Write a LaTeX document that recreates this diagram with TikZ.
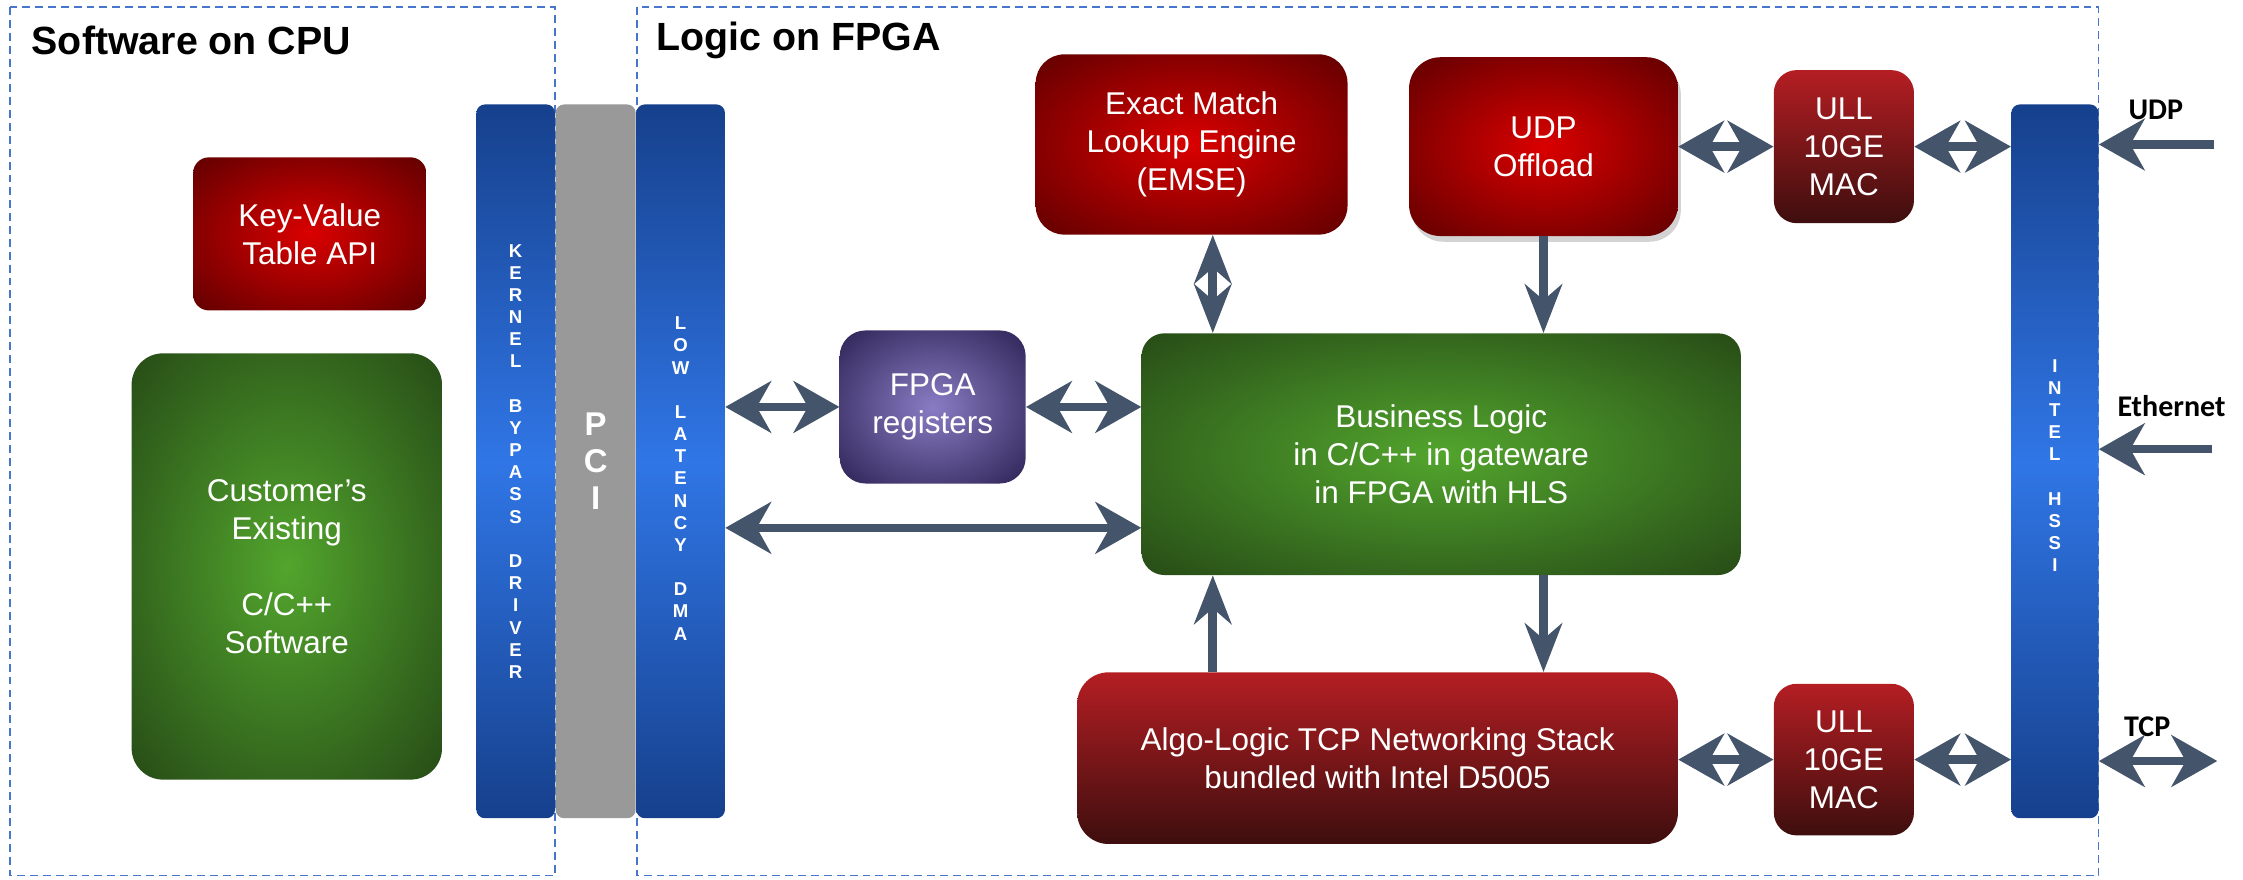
\documentclass[tikz,border=0pt]{standalone}
\usepackage{fontspec}
\setmainfont{Liberation Sans}
\newfontfamily\netfont{Carlito}
\usepackage{xcolor}
\usepackage{tikz}
\usetikzlibrary{positioning,calc,shapes,arrows.meta,shadows}

\definecolor{arrowslate}{RGB}{68,84,106}
\definecolor{dashblue}{RGB}{72,118,205}
\definecolor{redlight}{RGB}{218,0,0}
\definecolor{reddark}{RGB}{95,0,0}
\definecolor{redtop}{RGB}{180,30,35}
\definecolor{redbottom}{RGB}{62,14,14}
\definecolor{greenlight}{RGB}{82,165,45}
\definecolor{greendark}{RGB}{38,74,22}
\definecolor{purplelight}{RGB}{138,124,196}
\definecolor{purpledark}{RGB}{44,34,84}
\definecolor{bluelight}{RGB}{48,118,230}
\definecolor{bluedark}{RGB}{22,64,140}
\definecolor{pcigray}{RGB}{153,153,153}

\pgfdeclareradialshading{redglow}{\pgfpointorigin}{color(0bp)=(redlight);color(36bp)=(reddark);color(50bp)=(reddark)}
\pgfdeclareradialshading{greenglow}{\pgfpointorigin}{color(0bp)=(greenlight);color(36bp)=(greendark);color(50bp)=(greendark)}
\pgfdeclareradialshading{purpleglow}{\pgfpointorigin}{color(0bp)=(purplelight);color(36bp)=(purpledark);color(50bp)=(purpledark)}

\begin{document}
\begin{tikzpicture}[x=1pt,y=-1pt,
        block/.style={inner sep=0pt,text=white,align=center,font=\fontsize{22}{26.5}\selectfont},
        redblock/.style={block,shading=redglow},
        greenblock/.style={block,shading=greenglow},
        purpleblock/.style={block,shading=purpleglow},
        stackblock/.style={block,top color=redtop,bottom color=redbottom},
        busbar/.style={rounded corners=6pt,inner sep=0pt,minimum width=#1,minimum height=499pt,
                top color=bluedark,bottom color=bluedark,middle color=bluelight},
        bartext/.style={text=white,align=center,inner sep=0pt,font=\bfseries\fontsize{13}{15.5}\selectfont},
        dashbox/.style={draw=dashblue,line width=1.3pt,dash pattern=on 5.5pt off 3.5pt},
        heading/.style={anchor=west,inner sep=0pt,font=\bfseries\fontsize{27.5}{32}\selectfont},
        netlabel/.style={inner sep=0pt,font=\netfont\bfseries\fontsize{21}{25}\selectfont},
        bighead/.tip={Stealth[length=32pt,width=36pt,inset=10pt]},
        slimhead/.tip={Stealth[length=34pt,width=26pt,inset=11pt]},
        link/.style={draw=arrowslate,line width=6pt,-bighead},
        dlink/.style={draw=arrowslate,line width=6pt,bighead-bighead},
        vlink/.style={draw=arrowslate,line width=6pt,-slimhead},
        vdlink/.style={draw=arrowslate,line width=6pt,slimhead-slimhead}]
        \useasboundingbox (0,0) rectangle (1568,615);
        \draw[dashbox] (7,5) rectangle (388,612);
        \draw[dashbox] (445,5) rectangle (1467,612);
        \node[heading] (cpuhead) at (22,28) {Software on CPU};
        \node[heading] (fpgahead) at (459,28) {Logic on FPGA};

        \node[redblock,rounded corners=11pt,minimum width=163pt,minimum height=107pt] (kvt) at (216.5,163.5) {Key-Value\\Table API};
        \node[greenblock,rounded corners=22pt,minimum width=217pt,minimum height=298pt] (cust) at (200.5,396) {Customer’s\\Existing\\[26.5pt]C/C++\\Software};

        \node[busbar=55pt] (kernel) at (360.5,322.5) {};
        \node[rounded corners=6pt,fill=pcigray,inner sep=0pt,minimum width=56pt,minimum height=499pt,text=white,align=center,
                font=\bfseries\fontsize{23}{26}\selectfont,right=0pt of kernel] (pci) {P\\C\\I};
        \node[busbar=62pt,right=0pt of pci] (dma) {};
        \node[busbar=61pt] (hssi) at (1436.5,322.5) {};
        \node[bartext] (kerneltext) at (kernel.center) {K\\E\\R\\N\\E\\L\\[15.5pt]B\\Y\\P\\A\\S\\S\\[15.5pt]D\\R\\I\\V\\E\\R};
        \node[bartext] (dmatext) at ([yshift=-12pt]dma.center) {L\\O\\W\\[15.5pt]L\\A\\T\\E\\N\\C\\Y\\[15.5pt]D\\M\\A};
        \node[bartext] (hssitext) at ([yshift=-3pt]hssi.center) {I\\N\\T\\E\\L\\[15.5pt]H\\S\\S\\I};

        \node[purpleblock,rounded corners=18pt,minimum width=130pt,minimum height=107pt] (reg) at (652,284.5) {FPGA\\registers};
        \node[redblock,rounded corners=20pt,minimum width=218pt,minimum height=126pt] (emse) at (833,101) {Exact Match\\Lookup Engine\\(EMSE)};
        \node[redblock,rounded corners=22pt,minimum width=188pt,minimum height=125pt,
                drop shadow={opacity=0.35,shadow xshift=2pt,shadow yshift=-4pt}] (udp) at (1079,102.5) {UDP\\Offload};
        \node[stackblock,rounded corners=16pt,minimum width=98pt,minimum height=107pt] (mactop) at (1289,102.5) {ULL\\10GE\\MAC};
        \node[greenblock,rounded corners=16pt,minimum width=419pt,minimum height=169pt] (biz) at (1007.5,317.5) {Business Logic\\in C/C++ in gateware\\in FPGA with HLS};
        \node[stackblock,rounded corners=22pt,minimum width=420pt,minimum height=120pt] (tcp) at (963,530) {Algo-Logic TCP Networking Stack\\bundled with Intel D5005};
        \node[stackblock,rounded corners=16pt,minimum width=98pt,minimum height=106pt] (macbot) at (1289,531) {ULL\\10GE\\MAC};

        \coordinate (lcol) at ([xshift=50pt]biz.north west);
        \coordinate (dmaline) at ([yshift=-51.5pt]biz.west);
        \draw[dlink] (dma.east |- reg.west) -- (reg.west);
        \draw[dlink] (reg.east) -- (biz.west |- reg.east);
        \draw[dlink] (dma.east |- dmaline) -- (dmaline);
        \draw[vdlink] (emse.south -| lcol) -- (lcol);
        \draw[vlink] (udp.south) -- (biz.north -| udp.south);
        \draw[vlink] (biz.south -| udp.south) -- (tcp.north -| udp.south);
        \draw[vlink] (tcp.north -| lcol) -- (biz.south -| lcol);
        \draw[dlink] (udp.east) -- (mactop.west);
        \draw[dlink] (mactop.east) -- (hssi.west |- mactop.east);
        \draw[dlink] (tcp.east |- macbot.west) -- (macbot.west);
        \draw[dlink] (macbot.east) -- (hssi.west |- macbot.east);

        \coordinate (udpin) at (1548,101);
        \coordinate (ethin) at (1546,314);
        \coordinate (tcpout) at (1550,532);
        \node[netlabel] (udplbl) at (1507,77) {UDP};
        \node[netlabel] (ethlbl) at (1518,284) {Ethernet};
        \node[netlabel] (tcplbl) at (1501,508) {TCP};
        \draw[link] (udpin) -- (hssi.east |- udpin);
        \draw[link] (ethin) -- (hssi.east |- ethin);
        \draw[dlink] (hssi.east |- tcpout) -- (tcpout);
\end{tikzpicture}
\end{document}
